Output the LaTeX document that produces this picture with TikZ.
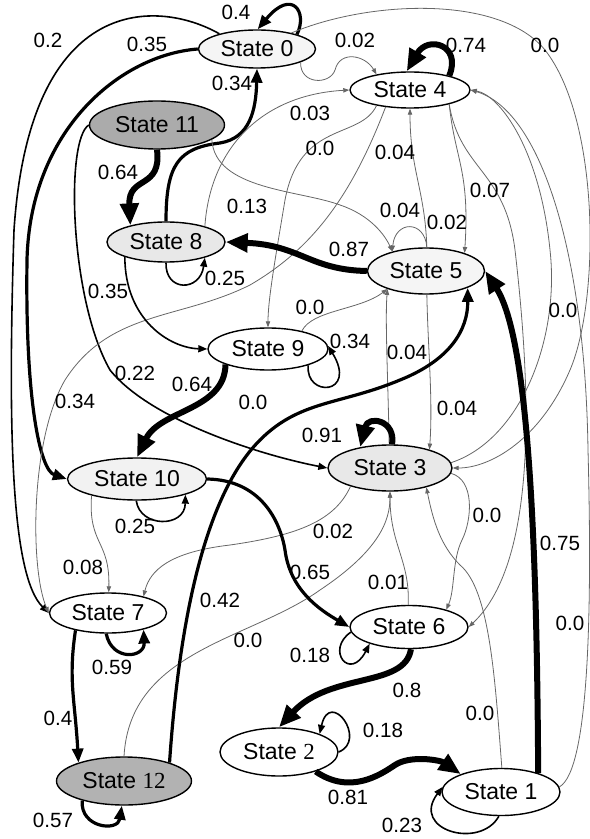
\documentclass[tikz,border=0pt]{standalone}
\usepackage{fontspec}
\setmainfont{Liberation Sans}
\newfontfamily\timesdigits{Liberation Serif}
\usetikzlibrary{shapes.geometric,arrows.meta}

\begin{document}
\begin{tikzpicture}[x=0.5pt,y=-0.5pt,
  state/.style={ellipse,draw,line width=0.7pt,inner sep=0pt,font=\fontsize{11.5}{12}\selectfont},
  lbl/.style={font=\fontsize{10.3}{11}\selectfont,inner sep=0pt},
  p0/.style={draw=black!60,line width=0.4pt,-{Triangle[length=3pt,width=2.2pt]}},
  p1/.style={line width=0.8pt,-{Triangle[length=4.5pt,width=3.5pt]}},
  p2/.style={line width=1.6pt,-{Triangle[length=7pt,width=5.5pt]}},
  p3/.style={line width=3pt,-{Triangle[length=11pt,width=9pt]}}]
\useasboundingbox (0,0) rectangle (589,839);

\node[state,fill=black!4,minimum width=58.5pt,minimum height=19pt] (s0) at (257,49) {State 0};
\node[state,fill=white,minimum width=60pt,minimum height=18pt] (s4) at (410,90) {State 4};
\node[state,fill=black!33,minimum width=67.5pt,minimum height=24pt] (s11) at (157,125) {State 11};
\node[state,fill=black!9,minimum width=59pt,minimum height=20pt] (s8) at (166,242) {State 8};
\node[state,fill=black!4,minimum width=58.5pt,minimum height=23pt] (s5) at (426,271) {State 5};
\node[state,fill=white,minimum width=60pt,minimum height=21pt] (s9) at (268,349) {State 9};
\node[state,fill=black!9,minimum width=62pt,minimum height=23pt] (s3) at (390,468) {State 3};
\node[state,fill=black!5,minimum width=69.5pt,minimum height=21pt] (s10) at (137,479) {State 10};
\node[state,fill=white,minimum width=58.5pt,minimum height=20pt] (s7) at (108,613) {State 7};
\node[state,fill=white,minimum width=59pt,minimum height=21.5pt] (s6) at (409,627) {State 6};
\node[state,fill=white,minimum width=59pt,minimum height=24pt] (s2) at (279,752) {State {\timesdigits 2}};
\node[state,fill=black!30,minimum width=67.5pt,minimum height=24pt] (s12) at (124,781) {State {\timesdigits 12}};
\node[state,fill=white,minimum width=59pt,minimum height=23.5pt] (s1) at (501,792) {State 1};

\draw[p2] (s0.20) .. controls (308,12) and (292,-12) .. (s0.88);
\draw[p1] (s0.158) .. controls (160,0) and (30,-10) .. (14,230) .. controls (8,420) and (10,575) .. (s7.180);
\draw[p2] (s0.180) .. controls (120,55) and (30,130) .. (27,260) .. controls (25,400) and (40,470) .. (s10.180);
\draw[p2] (s8.90) .. controls (166,165) and (178,148) .. (220,143) .. controls (250,138) and (256,110) .. (s0.270);
\draw[p3] (s11.270) .. controls (162,190) and (128,175) .. (s8.155);
\draw[p1] (s11.180) .. controls (65,140) and (70,300) .. (110,370) .. controls (150,420) and (260,455) .. (s3.180);
\draw[p0] (s0.-17) .. controls (300,85) and (330,85) .. (335,70) .. controls (340,50) and (365,55) .. (s4.155);
\draw[p3] (s4.20) .. controls (462,45) and (428,35) .. (s4.100);
\draw[p0] (s0.25) .. controls (370,0) and (500,-5) .. (545,50) .. controls (600,120) and (600,300) .. (570,370) .. controls (540,440) and (490,468) .. (s3.0);
\draw[p0] (s8.22) .. controls (210,150) and (260,95) .. (s4.180);
\draw[p0] (s4.205) .. controls (360,140) and (300,120) .. (285,200) .. controls (275,260) and (268,300) .. (s9.90);
\draw[p0] (s4.215) .. controls (350,200) and (310,250) .. (250,285) .. controls (180,320) and (110,310) .. (65,380) .. controls (30,440) and (30,570) .. (s7.180);
\draw[p0] (s11.-15) .. controls (215,190) and (300,190) .. (340,205) .. controls (370,215) and (385,235) .. (s5.150);
\draw[p0] (s9.28) .. controls (312,310) and (360,310) .. (s5.205);
\draw[p0] (s3.92) .. controls (388,380) and (385,320) .. (s5.205);
\draw[p0] (s5.272) .. controls (428,350) and (433,400) .. (s3.25);
\draw[p0] (s5.88) .. controls (425,190) and (410,170) .. (s4.270);
\draw[p0] (s5.88) .. controls (425,220) and (395,220) .. (s5.150);
\draw[p0] (s4.-20) .. controls (455,160) and (470,170) .. (s5.25);
\draw[p0] (s4.-20) .. controls (460,170) and (505,170) .. (515,250) .. controls (530,380) and (540,560) .. (s6.0);
\draw[p0] (s3.5) .. controls (520,440) and (560,340) .. (550,250) .. controls (540,150) and (500,95) .. (s4.0);
\draw[p0] (s3.-5) .. controls (475,480) and (472,520) .. (462,540) .. controls (452,560) and (455,590) .. (s6.25);
\draw[p0] (s1.88) .. controls (495,680) and (490,590) .. (460,565) .. controls (440,545) and (433,520) .. (s3.-28);
\draw[p0] (s6.92) .. controls (410,560) and (390,545) .. (s3.270);
\draw[p0] (s12.90) .. controls (130,650) and (250,640) .. (320,590) .. controls (380,550) and (390,520) .. (s3.270);
\draw[p0] (s3.205) .. controls (335,520) and (300,535) .. (230,545) .. controls (170,552) and (150,570) .. (s7.25);
\draw[p0] (s1.5) .. controls (590,770) and (592,600) .. (588,450) .. controls (585,250) and (540,110) .. (s4.0);
\draw[p2] (s12.22) .. controls (178,640) and (200,500) .. (260,440) .. controls (300,400) and (340,405) .. (400,380) .. controls (450,360) and (468,330) .. (s5.-22);
\draw[p2] (s10.0) .. controls (260,480) and (280,520) .. (285,550) .. controls (290,590) and (320,610) .. (s6.180);
\draw[p1] (s10.268) .. controls (140,528) and (185,528) .. (s10.-18);
\draw[p0] (s10.200) .. controls (88,545) and (110,540) .. (s7.88);
\draw[p3] (s9.200) .. controls (225,410) and (160,410) .. (s10.90);
\draw[p1] (s8.200) .. controls (125,320) and (170,348) .. (s9.180);
\draw[p1] (s8.270) .. controls (165,292) and (200,292) .. (s8.-22);
\draw[p3] (s5.180) .. controls (310,270) and (300,245) .. (s8.0);
\draw[p1] (s9.-22) .. controls (305,398) and (358,395) .. (s9.3);
\draw[p3] (s3.85) .. controls (396,420) and (368,415) .. (s3.145);
\draw[p2] (s7.265) .. controls (112,662) and (145,658) .. (s7.-25);
\draw[p2] (s7.208) .. controls (68,680) and (75,700) .. (s12.158);
\draw[p2] (s12.205) .. controls (80,828) and (118,832) .. (s12.265);
\draw[p1] (s6.185) .. controls (325,650) and (350,682) .. (s6.203);
\draw[p3] (s6.275) .. controls (405,688) and (330,672) .. (s2.90);
\draw[p1] (s2.0) .. controls (368,740) and (330,688) .. (s2.24);
\draw[p3] (s2.-28) .. controls (350,795) and (380,775) .. (395,765) .. controls (410,755) and (440,760) .. (s1.156);
\draw[p1] (s1.265) .. controls (480,850) and (410,830) .. (s1.175);
\draw[p3] (s1.27) .. controls (537,560) and (530,340) .. (s5.0);

\node[lbl] (l1) at (236,12) {0.4};
\node[lbl] (l2) at (48,40) {0.2};
\node[lbl] (l3) at (147,44) {0.35};
\node[lbl] (l4) at (232,83) {0.34};
\node[lbl] (l5) at (118,172) {0.64};
\node[lbl] (l6) at (355,40) {0.02};
\node[lbl] (l7) at (466,45) {0.74};
\node[lbl] (l8) at (545,45) {0.0};
\node[lbl] (l9) at (310,113) {0.03};
\node[lbl] (l10) at (320,148) {0.0};
\node[lbl] (l11) at (395,152) {0.04};
\node[lbl] (l12) at (490,190) {0.07};
\node[lbl] (l13) at (247,206) {0.13};
\node[lbl] (l14) at (400,210) {0.04};
\node[lbl] (l15) at (447,222) {0.02};
\node[lbl] (l16) at (349,249) {0.87};
\node[lbl] (l17) at (225,278) {0.25};
\node[lbl] (l18) at (108,291) {0.35};
\node[lbl] (l19) at (310,307) {0.0};
\node[lbl] (l20) at (563,310) {0.0};
\node[lbl] (l21) at (350,341) {0.34};
\node[lbl] (l22) at (407,352) {0.04};
\node[lbl] (l23) at (135,373) {0.22};
\node[lbl] (l24) at (192,384) {0.64};
\node[lbl] (l25) at (75,401) {0.34};
\node[lbl] (l26) at (253,402) {0.0};
\node[lbl] (l27) at (457,408) {0.04};
\node[lbl] (l28) at (322,435) {0.91};
\node[lbl] (l29) at (487,515) {0.0};
\node[lbl] (l30) at (135,526) {0.25};
\node[lbl] (l31) at (333,531) {0.02};
\node[lbl] (l32) at (560,543) {0.75};
\node[lbl] (l33) at (83,567) {0.08};
\node[lbl] (l34) at (310,572) {0.65};
\node[lbl] (l35) at (388,582) {0.01};
\node[lbl] (l36) at (220,600) {0.42};
\node[lbl] (l37) at (570,623) {0.0};
\node[lbl] (l38) at (248,640) {0.0};
\node[lbl] (l39) at (310,655) {0.18};
\node[lbl] (l40) at (112,667) {0.59};
\node[lbl] (l41) at (407,690) {0.8};
\node[lbl] (l42) at (480,713) {0.0};
\node[lbl] (l43) at (58,718) {0.4};
\node[lbl] (l44) at (383,730) {0.18};
\node[lbl] (l45) at (348,797) {0.81};
\node[lbl] (l46) at (53,820) {0.57};
\node[lbl] (l47) at (402,825) {0.23};
\end{tikzpicture}
\end{document}
